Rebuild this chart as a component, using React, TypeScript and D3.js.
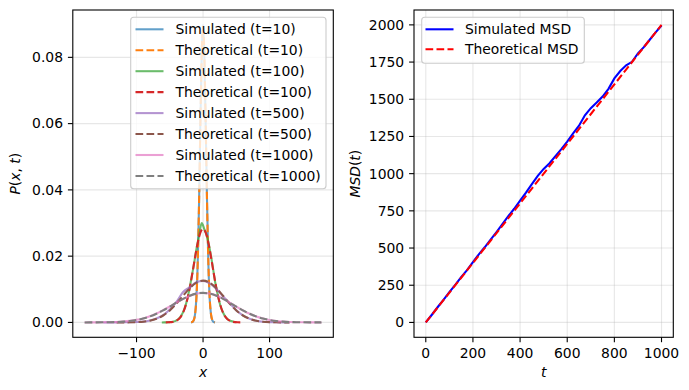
import * as d3 from "d3";

// ---- left panel: P(x, t) ----
const tLabels = ["10", "100", "500", "1000"];

const simX10 = [-18, -16, -14, -12, -10, -8, -6, -4, -2, 0, 2, 4, 6, 8, 10, 12, 14, 16, 18];
const simY10 = [0.00002, 0.0001, 0.0007, 0.0025, 0.0075, 0.0183, 0.036, 0.0605, 0.081, 0.0898, 0.08, 0.059, 0.0366, 0.0178, 0.0071, 0.0023, 0.0006, 0.0001, 0.00002];
const thX10 = [-18, -16, -14, -12, -10, -8, -6, -4, -2, 0, 2, 4, 6, 8, 10, 12, 14, 16, 18];
const thY10 = [0.00003, 0.00015, 0.00066, 0.0024, 0.0073, 0.018, 0.0363, 0.0598, 0.0807, 0.0892, 0.0807, 0.0598, 0.0363, 0.018, 0.0073, 0.0024, 0.00066, 0.00015, 0.00003];

const simX100 = [-62, -58, -54, -50, -46, -42, -38, -34, -30, -26, -22, -18, -14, -10, -6, -2, 2, 6, 10, 14, 18, 22, 26, 30, 34, 38, 42, 46, 50];
const simY100 = [0, 0.00002, 0.00004, 0.0001, 0.0002, 0.0004, 0.0009, 0.0017, 0.0031, 0.0053, 0.0086, 0.0128, 0.0172, 0.0221, 0.0262, 0.03, 0.0281, 0.0259, 0.0222, 0.0176, 0.0124, 0.0084, 0.0051, 0.003, 0.0016, 0.0008, 0.0004, 0.0002, 0.0001];
const thX100 = [-56, -52, -48, -44, -40, -36, -32, -28, -24, -20, -16, -12, -8, -4, 0, 4, 8, 12, 16, 20, 24, 28, 32, 36, 40, 44, 48, 52, 56];
const thY100 = [0.00001, 0.00003, 0.00009, 0.00022, 0.00052, 0.00111, 0.00218, 0.00397, 0.00668, 0.01038, 0.01487, 0.01968, 0.02404, 0.02711, 0.02821, 0.02711, 0.02404, 0.01968, 0.01487, 0.01038, 0.00668, 0.00397, 0.00218, 0.00111, 0.00052, 0.00022, 0.00009, 0.00003, 0.00001];

const simX500 = [-150, -140, -130, -120, -110, -100, -90, -80, -70, -60, -50, -40, -30, -20, -10, 0, 10, 20, 30, 40, 50, 60, 70, 80, 90, 100, 110, 120, 130];
const simY500 = [0, 0.00001, 0.00002, 0.00004, 0.00006, 0.00012, 0.00025, 0.0006, 0.0012, 0.0022, 0.0039, 0.0062, 0.0092, 0.0106, 0.0121, 0.0125, 0.0118, 0.0101, 0.0079, 0.0058, 0.0037, 0.0021, 0.0011, 0.0005, 0.0002, 0.0001, 0.00004, 0.00002, 0];
const thX500 = [-130, -120, -110, -100, -90, -80, -70, -60, -50, -40, -30, -20, -10, 0, 10, 20, 30, 40, 50, 60, 70, 80, 90, 100, 110, 120, 130];
const thY500 = [0, 0.00001, 0.00003, 0.00008, 0.00022, 0.00051, 0.00109, 0.00209, 0.00362, 0.00567, 0.00805, 0.01033, 0.012, 0.01262, 0.012, 0.01033, 0.00805, 0.00567, 0.00362, 0.00209, 0.00109, 0.00051, 0.00022, 0.00008, 0.00003, 0.00001, 0];

const simX1000 = [-178, -170, -160, -150, -140, -130, -120, -110, -100, -90, -80, -70, -60, -50, -40, -30, -20, -10, 0, 10, 20, 30, 40, 50, 60, 70, 80, 90, 100, 110, 120, 130, 140, 150, 160, 170, 178];
const simY1000 = [0, 0.00001, 0.00001, 0.00003, 0.00008, 0.00014, 0.00026, 0.00046, 0.00078, 0.00122, 0.00186, 0.00268, 0.0037, 0.0048, 0.006, 0.0071, 0.008, 0.0087, 0.0089, 0.0087, 0.0081, 0.0072, 0.006, 0.0048, 0.0036, 0.0026, 0.0018, 0.0012, 0.0007, 0.0004, 0.00024, 0.00012, 0.00007, 0.00003, 0.00001, 0.00001, 0];
const thX1000 = [-178, -170, -160, -150, -140, -130, -120, -110, -100, -90, -80, -70, -60, -50, -40, -30, -20, -10, 0, 10, 20, 30, 40, 50, 60, 70, 80, 90, 100, 110, 120, 130, 140, 150, 160, 170, 178];
const thY1000 = [0, 0.00001, 0.00001, 0.00003, 0.00007, 0.00013, 0.00024, 0.00043, 0.00073, 0.00118, 0.0018, 0.00262, 0.00363, 0.00477, 0.00598, 0.00712, 0.00807, 0.0087, 0.00892, 0.0087, 0.00807, 0.00712, 0.00598, 0.00477, 0.00363, 0.00262, 0.0018, 0.00118, 0.00073, 0.00043, 0.00024, 0.00013, 0.00007, 0.00003, 0.00001, 0.00001, 0];

const leftYTicks = [0, 0.02, 0.04, 0.06, 0.08];
const leftXTicks = [-100, 0, 100];

// ---- right panel: MSD ----
const msdT = [0, 25, 50, 75, 100, 125, 150, 175, 200, 225, 250, 275, 300, 325, 350, 375, 400, 425, 450, 475, 500, 525, 550, 575, 600, 625, 650, 675, 700, 725, 750, 775, 800, 825, 850, 875, 900, 925, 950, 975, 1000];
const msdSim = [0, 50, 102, 152, 204, 253, 304, 352, 406, 458, 505, 556, 607, 660, 714, 764, 818, 872, 930, 985, 1032, 1070, 1118, 1165, 1216, 1270, 1322, 1392, 1440, 1478, 1518, 1570, 1640, 1690, 1728, 1752, 1808, 1850, 1900, 1950, 1996];
const msdTheoryT = [0, 1000];
const msdTheory = [0, 2000];

const rightYTicks = [0, 250, 500, 750, 1000, 1250, 1500, 1750, 2000];
const rightXTicks = [0, 200, 400, 600, 800, 1000];

const tab10 = ["#1f77b4", "#ff7f0e", "#2ca02c", "#d62728", "#9467bd", "#8c564b", "#e377c2", "#7f7f7f"];

const FONT = "DejaVu Sans, sans-serif";
const FS = 13.9;
const LW = 2.08;
const DASH = "7.7,3.3";
const SPINE = 1.1;
const TICK = 4.9;

function pad(ext: [number, number]): [number, number] {
  const r = ext[1] - ext[0];
  return [ext[0] - 0.05 * r, ext[1] + 0.05 * r];
}

const minus = (s: string) => s.replace("-", "\u2212");

export default function App() {
  const sims = [
    [simX10, simY10],
    [simX100, simY100],
    [simX500, simY500],
    [simX1000, simY1000],
  ];
  const ths = [
    [thX10, thY10],
    [thX100, thY100],
    [thX500, thY500],
    [thX1000, thY1000],
  ];

  const L = { left: 72.8, right: 333.3, top: 10, bottom: 337.3 };
  const R = { left: 414, right: 673.3, top: 10, bottom: 337.3 };

  const allX = [...sims, ...ths].flatMap((s) => s[0]);
  const allY = [...sims, ...ths].flatMap((s) => s[1]);
  const xl = d3.scaleLinear().domain(pad(d3.extent(allX) as [number, number])).range([L.left, L.right]);
  const yl = d3.scaleLinear().domain(pad([0, d3.max(allY) as number])).range([L.bottom, L.top]);

  const xr = d3.scaleLinear().domain(pad([0, 1000])).range([R.left, R.right]);
  const yr = d3.scaleLinear().domain(pad([0, 2000])).range([R.bottom, R.top]);

  const lineL = (xs: number[], ys: number[]) =>
    d3.line<number>().x((_, i) => xl(xs[i])).y((d) => yl(d)).curve(d3.curveMonotoneX)(ys) ?? "";
  const lineR = (xs: number[], ys: number[]) =>
    d3.line<number>().x((_, i) => xr(xs[i])).y((d) => yr(d))(ys) ?? "";

  const leftItems: { label: string; color: string; dashed: boolean; alpha: number }[] = [];
  tLabels.forEach((t, i) => {
    leftItems.push({ label: `Simulated (t=${t})`, color: tab10[2 * i], dashed: false, alpha: 0.7 });
    leftItems.push({ label: `Theoretical (t=${t})`, color: tab10[2 * i + 1], dashed: true, alpha: 1 });
  });

  const gridColor = "#b0b0b0";

  return (
    <svg width={689} height={390} style={{ position: "absolute", left: 0, top: 0, background: "#fff" }} fontFamily={FONT}>
      <rect width={689} height={390} fill="#fff" />

      {/* ===== Left panel ===== */}
      <g>
        {leftXTicks.map((t) => (
          <line key={"gx" + t} x1={xl(t)} x2={xl(t)} y1={L.top} y2={L.bottom} stroke={gridColor} strokeOpacity={0.3} strokeWidth={SPINE} />
        ))}
        {leftYTicks.map((t) => (
          <line key={"gy" + t} x1={L.left} x2={L.right} y1={yl(t)} y2={yl(t)} stroke={gridColor} strokeOpacity={0.3} strokeWidth={SPINE} />
        ))}
        {tLabels.map((t, i) => (
          <g key={"c" + t}>
            <path d={lineL(sims[i][0], sims[i][1])} fill="none" stroke={tab10[2 * i]} strokeOpacity={0.7} strokeWidth={LW} />
            <path d={lineL(ths[i][0], ths[i][1])} fill="none" stroke={tab10[2 * i + 1]} strokeWidth={LW} strokeDasharray={DASH} />
          </g>
        ))}
        <rect x={L.left} y={L.top} width={L.right - L.left} height={L.bottom - L.top} fill="none" stroke="#000" strokeWidth={SPINE} />
        {leftYTicks.map((t) => (
          <g key={"ty" + t}>
            <line x1={L.left - TICK} x2={L.left} y1={yl(t)} y2={yl(t)} stroke="#000" strokeWidth={SPINE} />
            <text x={L.left - 9.8} y={yl(t)} dy="0.35em" textAnchor="end" fontSize={FS}>{d3.format(".2f")(t)}</text>
          </g>
        ))}
        {leftXTicks.map((t) => (
          <g key={"tx" + t}>
            <line x1={xl(t)} x2={xl(t)} y1={L.bottom} y2={L.bottom + TICK} stroke="#000" strokeWidth={SPINE} />
            <text x={xl(t)} y={L.bottom + 9.8} dy="0.76em" textAnchor="middle" fontSize={FS}>{minus(String(t))}</text>
          </g>
        ))}
        <text x={(L.left + L.right) / 2} y={377} textAnchor="middle" fontSize={FS} fontStyle="italic">x</text>
        <text transform={`translate(19.5,${(L.top + L.bottom) / 2}) rotate(-90)`} textAnchor="middle" fontSize={FS}>
          <tspan fontStyle="italic">P</tspan>(<tspan fontStyle="italic">x</tspan>, <tspan fontStyle="italic">t</tspan>)
        </text>

        {/* legend */}
        <rect x={130.7} y={17.3} width={195.3} height={171.4} rx={3} fill="#fff" fillOpacity={0.8} stroke="#cccccc" strokeWidth={SPINE} />
        {leftItems.map((it, i) => {
          const cy = 29.3 + i * 20.95;
          return (
            <g key={"lg" + i}>
              <line x1={135.5} x2={163.5} y1={cy} y2={cy} stroke={it.color} strokeOpacity={it.alpha} strokeWidth={LW} strokeDasharray={it.dashed ? DASH : undefined} />
              <text x={175.5} y={cy} dy="0.35em" fontSize={FS}>{it.label}</text>
            </g>
          );
        })}
      </g>

      {/* ===== Right panel ===== */}
      <g>
        {rightXTicks.map((t) => (
          <line key={"rgx" + t} x1={xr(t)} x2={xr(t)} y1={R.top} y2={R.bottom} stroke={gridColor} strokeOpacity={0.3} strokeWidth={SPINE} />
        ))}
        {rightYTicks.map((t) => (
          <line key={"rgy" + t} x1={R.left} x2={R.right} y1={yr(t)} y2={yr(t)} stroke={gridColor} strokeOpacity={0.3} strokeWidth={SPINE} />
        ))}
        <path d={lineR(msdT, msdSim)} fill="none" stroke="#0000ff" strokeWidth={LW} />
        <path d={lineR(msdTheoryT, msdTheory)} fill="none" stroke="#ff0000" strokeWidth={LW} strokeDasharray={DASH} />
        <rect x={R.left} y={R.top} width={R.right - R.left} height={R.bottom - R.top} fill="none" stroke="#000" strokeWidth={SPINE} />
        {rightYTicks.map((t) => (
          <g key={"rty" + t}>
            <line x1={R.left - TICK} x2={R.left} y1={yr(t)} y2={yr(t)} stroke="#000" strokeWidth={SPINE} />
            <text x={R.left - 9.8} y={yr(t)} dy="0.35em" textAnchor="end" fontSize={FS}>{t}</text>
          </g>
        ))}
        {rightXTicks.map((t) => (
          <g key={"rtx" + t}>
            <line x1={xr(t)} x2={xr(t)} y1={R.bottom} y2={R.bottom + TICK} stroke="#000" strokeWidth={SPINE} />
            <text x={xr(t)} y={R.bottom + 9.8} dy="0.76em" textAnchor="middle" fontSize={FS}>{t}</text>
          </g>
        ))}
        <text x={(R.left + R.right) / 2} y={377} textAnchor="middle" fontSize={FS} fontStyle="italic">t</text>
        <text transform={`translate(359.5,${(R.top + R.bottom) / 2}) rotate(-90)`} textAnchor="middle" fontSize={FS}>
          <tspan fontStyle="italic">MSD</tspan>(<tspan fontStyle="italic">t</tspan>)
        </text>

        <rect x={421.7} y={17.3} width={162.6} height={46} rx={3} fill="#fff" fillOpacity={0.8} stroke="#cccccc" strokeWidth={SPINE} />
        <line x1={425.5} x2={453.5} y1={29.3} y2={29.3} stroke="#0000ff" strokeWidth={LW} />
        <text x={465} y={29.3} dy="0.35em" fontSize={FS}>Simulated MSD</text>
        <line x1={425.5} x2={453.5} y1={49.3} y2={49.3} stroke="#ff0000" strokeWidth={LW} strokeDasharray={DASH} />
        <text x={465} y={49.3} dy="0.35em" fontSize={FS}>Theoretical MSD</text>
      </g>
    </svg>
  );
}
